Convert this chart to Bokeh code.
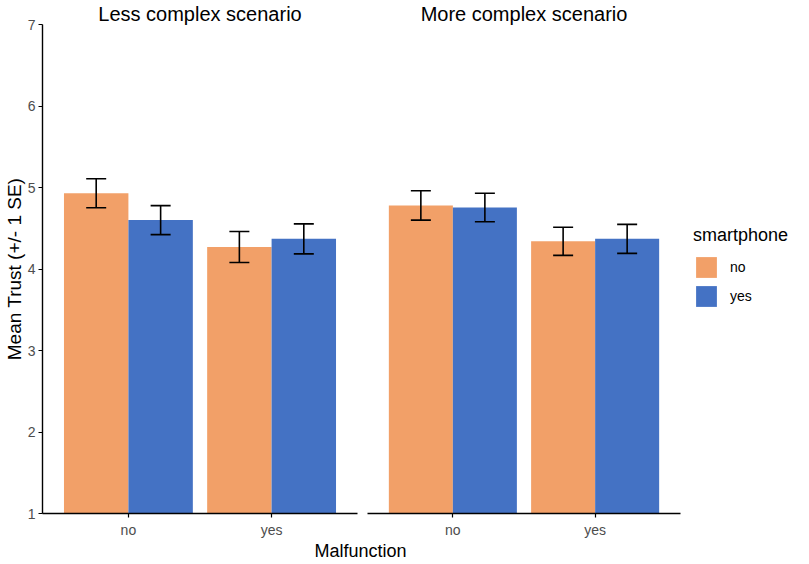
from bokeh.plotting import figure
from bokeh.models import (FactorRange, Range1d, ColumnDataSource, Whisker, TeeHead,
                          FixedTicker, Legend, LegendItem, Label)
from bokeh.transform import dodge
from bokeh.layouts import row, column
from bokeh.embed import file_html
from bokeh.resources import INLINE

# ---------------- data ----------------
scenarios = ["Less complex scenario", "More complex scenario"]
malfunction = ["no", "yes"]
smartphone = ["no", "yes"]
# mean trust per malfunction level, split by smartphone
less_mean_no = [4.93, 4.27]
less_mean_yes = [4.60, 4.37]
less_se_no = [0.178, 0.19]
less_se_yes = [0.178, 0.184]
more_mean_no = [4.78, 4.34]
more_mean_yes = [4.755, 4.37]
more_se_no = [0.18, 0.173]
more_se_yes = [0.175, 0.178]
y_ticks = [1, 2, 3, 4, 5, 6, 7]

FONT = "Liberation Sans"
ORANGE = "#F2A068"
BLUE = "#4472C4"
GREY = "#4D4D4D"
COLORS = {"no": ORANGE, "yes": BLUE}
OFFS = {"no": -0.225, "yes": 0.225}
FRAME_H = 489


def make_source(means, ses):
    return ColumnDataSource(dict(
        x=malfunction,
        mean=means,
        lower=[m - s for m, s in zip(means, ses)],
        upper=[m + s for m, s in zip(means, ses)],
    ))


def make_fig(title, fw, bl, br, show_y, data):
    p = figure(x_range=FactorRange(factors=malfunction, range_padding=0.1,
                                   range_padding_units="absolute"),
               y_range=Range1d(1, 7), frame_width=fw, frame_height=FRAME_H,
               output_backend="svg", toolbar_location=None,
               min_border_left=bl, min_border_right=br, min_border_top=0,
               min_border_bottom=0,
               y_axis_location="left" if show_y else None)
    p.title.text = title
    p.title.align = "center"
    p.title.text_font = FONT
    p.title.text_font_size = "20px"
    p.title.text_font_style = "normal"
    p.title.text_color = "black"
    p.title.standoff = 0
    p.title.offset = 0
    p.outline_line_color = None
    p.xgrid.grid_line_color = None
    p.ygrid.grid_line_color = None
    p.background_fill_color = "white"

    ax = p.xaxis[0]
    ax.axis_line_color = "black"
    ax.axis_line_width = 1.4
    ax.major_tick_line_color = "black"
    ax.major_tick_line_width = 1.2
    ax.major_tick_in = 0
    ax.major_tick_out = 4
    ax.major_label_text_font = FONT
    ax.major_label_text_font_size = "14px"
    ax.major_label_text_color = GREY
    ax.major_label_standoff = 4

    if show_y:
        ay = p.yaxis[0]
        ay.ticker = FixedTicker(ticks=y_ticks)
        ay.axis_line_color = "black"
        ay.axis_line_width = 1.4
        ay.major_tick_line_color = "black"
        ay.major_tick_line_width = 1.2
        ay.major_tick_in = 0
        ay.major_tick_out = 4
        ay.minor_tick_line_color = None
        ay.major_label_text_font = FONT
        ay.major_label_text_font_size = "14px"
        ay.major_label_text_color = GREY
        ay.major_label_standoff = 3
        ay.axis_label = "Mean Trust (+/- 1 SE)"
        ay.axis_label_text_font = FONT
        ay.axis_label_text_font_size = "19px"
        ay.axis_label_text_font_style = "normal"
        ay.axis_label_text_color = "black"
        ay.axis_label_standoff = 0

    sources = {}
    for sp in smartphone:
        src = make_source(*data[sp])
        sources[sp] = src
        p.vbar(x=dodge("x", OFFS[sp], range=p.x_range), top="mean", bottom=1,
               width=0.45, source=src, fill_color=COLORS[sp], line_color=None)
        w = Whisker(base=dodge("x", OFFS[sp], range=p.x_range), upper="upper",
                    lower="lower", source=src, line_color="black", line_width=1.6,
                    level="overlay",
                    upper_head=TeeHead(size=20, line_color="black", line_width=1.6),
                    lower_head=TeeHead(size=20, line_color="black", line_width=1.6))
        p.add_layout(w)
    return p, sources


left, _ = make_fig(scenarios[0], 315, 33, 5, True,
                   {"no": (less_mean_no, less_se_no), "yes": (less_mean_yes, less_se_yes)})
right, rsrc = make_fig(scenarios[1], 313, 5, 5, False,
                       {"no": (more_mean_no, more_se_no), "yes": (more_mean_yes, more_se_yes)})

# legend panel: its own small figure whose (hidden) renderers carry the fill colours
leg = figure(width=108, height=528, x_range=FactorRange(factors=malfunction),
             y_range=Range1d(1, 7), output_backend="svg", toolbar_location=None,
             x_axis_location=None, y_axis_location=None, min_border=0,
             outline_line_color=None)
leg.xgrid.grid_line_color = None
leg.ygrid.grid_line_color = None
items = []
for sp in smartphone:
    r = leg.vbar(x="x", top="mean", bottom=1, width=0.45, source=rsrc[sp],
                 fill_color=COLORS[sp], line_color=None)
    r.visible = False
    items.append(LegendItem(label=sp, renderers=[r]))

legend = Legend(items=items, location=(8, 192), title="smartphone",
                title_text_font=FONT, title_text_font_size="18px",
                title_text_font_style="normal", title_text_color="black",
                label_text_font=FONT, label_text_font_size="14px", label_text_color="black",
                glyph_width=26, glyph_height=26, label_standoff=11, spacing=3,
                padding=6, margin=0, border_line_color=None, background_fill_alpha=0,
                title_standoff=8, inactive_fill_alpha=0)
leg.add_layout(legend)

bottom = figure(width=720, height=20, x_range=Range1d(0, 1), y_range=Range1d(0, 1),
                output_backend="svg", toolbar_location=None, x_axis_location=None,
                y_axis_location=None, min_border=0, outline_line_color=None)
bottom.xgrid.grid_line_color = None
bottom.ygrid.grid_line_color = None
bottom.add_layout(Label(x=0.5, y=0.5, text="Malfunction", text_align="center",
                        text_baseline="middle", text_font=FONT,
                        text_font_size="18px", text_color="black"))

layout = column(row(left, right, leg), bottom, spacing=0)
open("out.html", "w").write(file_html(layout, INLINE))
